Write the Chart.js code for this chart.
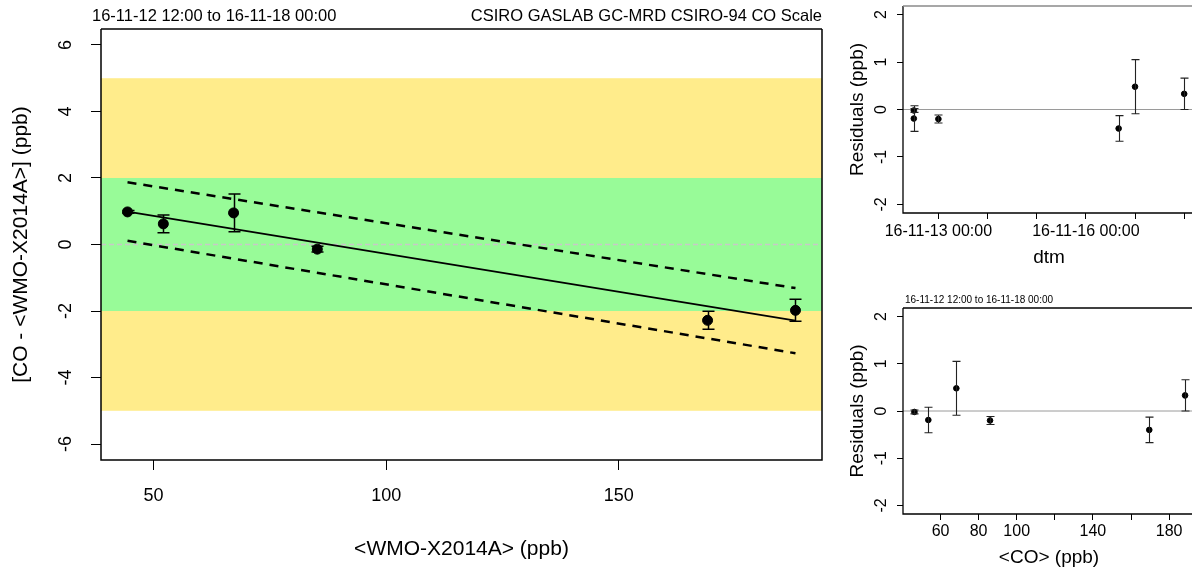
<!DOCTYPE html>
<html>
<head>
<meta charset="utf-8">
<title>CO calibration residuals</title>
<script src="https://cdn.jsdelivr.net/npm/chart.js@4.4.1/dist/chart.umd.min.js"></script>
<style>
    html, body { margin: 0; padding: 0; overflow: hidden; background: #fff; width: 1192px; height: 572px; }
    canvas { position: absolute; display: block; }
    #mainChart { left: 0; top: 0; }
    #timeChart { left: 840px; top: 0; }
    #coChart { left: 840px; top: 286px; }
</style>
</head>
<body>
<canvas id="mainChart" width="840" height="572"></canvas>
<canvas id="timeChart" width="360" height="286"></canvas>
<canvas id="coChart" width="360" height="286"></canvas>
<script>
// values
const wmoValues = [44.4, 52.1, 67.2, 85.2, 169.1, 188.0];
const coDiff = [0.98, 0.62, 0.95, -0.14, -2.28, -1.98];
const diffErr = [0.04, 0.27, 0.57, 0.085, 0.27, 0.33];

// fitted line and its band (end points)
const fitX = [44.4, 188.0];
const fitY = [0.99, -2.29];
const fitUpper = [1.87, -1.31];
const fitLower = [0.11, -3.27];

const outerBand = [-5, 5];
const innerBand = [-2, 2];

// residuals of the fit, against time and against CO
const residuals = [-0.02, -0.19, 0.48, -0.20, -0.40, 0.33];
const sampleTimes = ['2016-11-12 12:00', '2016-11-12 12:00', '2016-11-17 00:00',
                     '2016-11-13 00:00', '2016-11-16 16:00', '2016-11-18 00:00'];
const coValues = [46.3, 53.6, 68.3, 86.0, 169.6, 188.4];

// axis ticks
const mainXTicks = [50, 100, 150];
const mainYTicks = [-6, -4, -2, 0, 2, 4, 6];
const resYTicks = [-2, -1, 0, 1, 2];
const timeTicks = ['2016-11-13 00:00', '2016-11-14 00:00', '2016-11-15 00:00',
                   '2016-11-16 00:00', '2016-11-17 00:00', '2016-11-18 00:00'];
const timeTickLabels = ['16-11-13 00:00', '', '', '16-11-16 00:00', '', ''];
const coTicks = [60, 80, 100, 120, 140, 160, 180];
const coTickLabels = ['60', '80', '100', '', '140', '', '180'];

const FONT = "'Liberation Sans', Arial, Helvetica, sans-serif";
Chart.defaults.font.family = FONT;
Chart.defaults.color = '#000';
Chart.defaults.animation = false;

/**
 * days since 2016-11-12 00:00
 */
function toDays(s) {
    const [d, t] = s.split(' ');
    const [yr, mo, dy] = d.split('-').map(Number);
    const [hh, mm] = t.split(':').map(Number);
    return (Date.UTC(yr, mo - 1, dy, hh, mm) - Date.UTC(2016, 10, 12)) / 86400000;
}

function toPoints(xs, ys) {
    return xs.map((v, i) => ({ x: v, y: ys[i] }));
}

/**
 * Draws bands, zero line, error bars, frame, rotated y labels and free texts
 */
const panelDecor = {
    id: 'panelDecor',
    beforeDatasetsDraw(chart, args, opts) {
        const { ctx, chartArea: a } = chart;
        const y = chart.scales.y;
        ctx.save();
        (opts.bands || []).forEach(b => {
            const top = y.getPixelForValue(b.range[1]);
            const bot = y.getPixelForValue(b.range[0]);
            ctx.fillStyle = b.color;
            ctx.fillRect(a.left, top, a.right - a.left, bot - top);
        });
        if (opts.zeroLine) {
            const yz = y.getPixelForValue(0);
            ctx.strokeStyle = opts.zeroLine.color;
            ctx.lineWidth = opts.zeroLine.width;
            ctx.setLineDash(opts.zeroLine.dash || []);
            ctx.beginPath();
            ctx.moveTo(a.left, yz);
            ctx.lineTo(a.right, yz);
            ctx.stroke();
        }
        ctx.restore();
    },
    afterDatasetsDraw(chart, args, opts) {
        const eb = opts.errorBars;
        if (!eb) return;
        const { ctx } = chart;
        const { x, y } = chart.scales;
        ctx.save();
        ctx.strokeStyle = eb.color;
        ctx.lineWidth = eb.width;
        eb.x.forEach((xv, i) => {
            const px = Math.round(x.getPixelForValue(xv)) + 0.5;
            const hi = y.getPixelForValue(eb.y[i] + eb.err[i]);
            const lo = y.getPixelForValue(eb.y[i] - eb.err[i]);
            ctx.beginPath();
            ctx.moveTo(px, hi); ctx.lineTo(px, lo);
            ctx.moveTo(px - eb.cap, hi); ctx.lineTo(px + eb.cap, hi);
            ctx.moveTo(px - eb.cap, lo); ctx.lineTo(px + eb.cap, lo);
            ctx.stroke();
        });
        ctx.restore();
    },
    afterDraw(chart, args, opts) {
        const { ctx, chartArea: a } = chart;
        const y = chart.scales.y;
        ctx.save();
        // frame
        const f = opts.frame;
        ctx.lineWidth = f.width;
        ctx.strokeStyle = f.color;
        ctx.beginPath();
        ctx.moveTo(a.left, a.top); ctx.lineTo(a.left, a.bottom);
        ctx.lineTo(a.right, a.bottom); ctx.lineTo(a.right, a.top);
        ctx.stroke();
        ctx.strokeStyle = f.topColor || f.color;
        ctx.beginPath();
        ctx.moveTo(a.left, a.top); ctx.lineTo(a.right, a.top);
        ctx.stroke();
        // rotated y tick labels
        ctx.fillStyle = '#000';
        ctx.font = opts.yLabelSize + 'px ' + FONT;
        ctx.textAlign = 'center';
        ctx.textBaseline = 'middle';
        y.ticks.forEach(t => {
            ctx.save();
            ctx.translate(opts.yLabelX, y.getPixelForValue(t.value));
            ctx.rotate(-Math.PI / 2);
            ctx.fillText(String(t.value), 0, 0);
            ctx.restore();
        });
        // free texts
        (opts.texts || []).forEach(t => {
            ctx.font = t.size + 'px ' + FONT;
            ctx.textAlign = t.align;
            ctx.fillText(t.text, t.x, t.y);
        });
        ctx.restore();
    }
};

function axisGrid(len) {
    return { drawOnChartArea: false, drawTicks: true, tickLength: len, tickColor: '#000', tickWidth: 1 };
}

/**
 * Main plot: CO minus reference against reference
 */
function renderMainChart() {
    const ctx = document.getElementById('mainChart').getContext('2d');
    new Chart(ctx, {
        type: 'scatter',
        data: {
            datasets: [
                {
                    data: toPoints(wmoValues, coDiff),
                    pointRadius: 5,
                    backgroundColor: '#000',
                    borderColor: '#000',
                    order: 0
                },
                {
                    data: toPoints(fitX, fitY),
                    showLine: true,
                    borderColor: '#000',
                    borderWidth: 1.8,
                    pointRadius: 0,
                    order: 1
                },
                {
                    data: toPoints(fitX, fitUpper),
                    showLine: true,
                    borderColor: '#000',
                    borderWidth: 2.5,
                    borderDash: [9, 7],
                    pointRadius: 0,
                    order: 1
                },
                {
                    data: toPoints(fitX, fitLower),
                    showLine: true,
                    borderColor: '#000',
                    borderWidth: 2.5,
                    borderDash: [9, 7],
                    pointRadius: 0,
                    order: 1
                }
            ]
        },
        options: {
            responsive: false,
            layout: { padding: { top: 29, right: 18, left: 0, bottom: 0 } },
            plugins: {
                legend: { display: false },
                tooltip: { enabled: false },
                panelDecor: {
                    bands: [
                        { range: outerBand, color: '#FFEC8B' },
                        { range: innerBand, color: '#98FB98' }
                    ],
                    zeroLine: { color: '#c8c8c8', width: 1.5, dash: [5, 3] },
                    errorBars: { x: wmoValues, y: coDiff, err: diffErr, color: '#000', width: 1.5, cap: 6 },
                    frame: { color: '#000', width: 1.5 },
                    yLabelX: 66,
                    yLabelSize: 18,
                    texts: [
                        { text: '16-11-12 12:00 to 16-11-18 00:00', x: 92, y: 16, align: 'left', size: 16.5 },
                        { text: 'CSIRO GASLAB GC-MRD CSIRO-94 CO Scale', x: 822, y: 16, align: 'right', size: 16.5 }
                    ]
                }
            },
            scales: {
                x: {
                    type: 'linear',
                    min: 38.7,
                    max: 193.7,
                    afterBuildTicks: s => { s.ticks = mainXTicks.map(v => ({ value: v })); },
                    afterFit: s => { s.height = 112; },
                    grid: axisGrid(10),
                    border: { display: false },
                    ticks: { font: { size: 18 }, color: '#000', padding: 15, maxRotation: 0, autoSkip: false },
                    title: { display: true, text: '<WMO-X2014A> (ppb)', font: { size: 21 }, color: '#000', padding: { top: 0, bottom: 10 } }
                },
                y: {
                    type: 'linear',
                    min: -6.48,
                    max: 6.48,
                    afterBuildTicks: s => { s.ticks = mainYTicks.map(v => ({ value: v })); },
                    afterFit: s => { s.width = 101; },
                    grid: axisGrid(10),
                    border: { display: false },
                    ticks: { display: false },
                    title: { display: true, text: '[CO - <WMO-X2014A>] (ppb)', font: { size: 21 }, color: '#000', padding: { top: 9, bottom: 0 } }
                }
            }
        },
        plugins: [panelDecor]
    });
}

/**
 * Residual plot, shared by the two right panels
 */
function renderResidualChart(canvasId, xs, xCfg, extra) {
    const ctx = document.getElementById(canvasId).getContext('2d');
    new Chart(ctx, {
        type: 'scatter',
        data: {
            datasets: [{
                data: toPoints(xs, residuals),
                pointRadius: 2.8,
                backgroundColor: '#000',
                borderColor: '#000'
            }]
        },
        options: {
            responsive: false,
            layout: { padding: { top: extra.top, right: 3, left: 0, bottom: 0 } },
            plugins: {
                legend: { display: false },
                tooltip: { enabled: false },
                panelDecor: {
                    zeroLine: { color: '#9a9a9a', width: 1 },
                    errorBars: { x: xs, y: residuals, err: diffErr, color: '#222', width: 1.1, cap: 4 },
                    frame: { color: '#000', width: 1.3, topColor: extra.topColor },
                    yLabelX: 42,
                    yLabelSize: 16,
                    texts: extra.texts || []
                }
            },
            scales: {
                x: Object.assign({
                    type: 'linear',
                    grid: axisGrid(6),
                    border: { display: false }
                }, xCfg),
                y: {
                    type: 'linear',
                    min: -2.18,
                    max: 2.18,
                    afterBuildTicks: s => { s.ticks = resYTicks.map(v => ({ value: v })); },
                    afterFit: s => { s.width = 63; },
                    grid: axisGrid(6),
                    border: { display: false },
                    ticks: { display: false },
                    title: { display: true, text: 'Residuals (ppb)', font: { size: 19 }, color: '#000', padding: { top: 6, bottom: 0 } }
                }
            }
        },
        plugins: [panelDecor]
    });
}

document.addEventListener('DOMContentLoaded', function() {
    renderMainChart();

    const timeTickDays = timeTicks.map(toDays);
    renderResidualChart('timeChart', sampleTimes.map(toDays), {
        min: 0.28,
        max: 6.22,
        afterBuildTicks: s => { s.ticks = timeTickDays.map(v => ({ value: v })); },
        afterFit: s => { s.height = 73; },
        ticks: { font: { size: 16 }, color: '#000', padding: 3, maxRotation: 0, autoSkip: false,
                 callback: (v, i) => timeTickLabels[i] },
        title: { display: true, text: 'dtm', font: { size: 19 }, color: '#000', padding: { top: 0, bottom: 17 } }
    }, { top: 6, topColor: '#8a8a8a' });

    renderResidualChart('coChart', coValues, {
        min: 40.3,
        max: 193.6,
        afterBuildTicks: s => { s.ticks = coTicks.map(v => ({ value: v })); },
        afterFit: s => { s.height = 58; },
        ticks: { font: { size: 16 }, color: '#000', padding: 2, maxRotation: 0, autoSkip: false,
                 callback: (v, i) => coTickLabels[i] },
        title: { display: true, text: '<CO> (ppb)', font: { size: 19 }, color: '#000', padding: { top: 0, bottom: 3 } }
    }, {
        top: 22,
        texts: [{ text: '16-11-12 12:00 to 16-11-18 00:00', x: 65, y: 14, align: 'left', size: 10 }]
    });
});
</script>
</body>
</html>
